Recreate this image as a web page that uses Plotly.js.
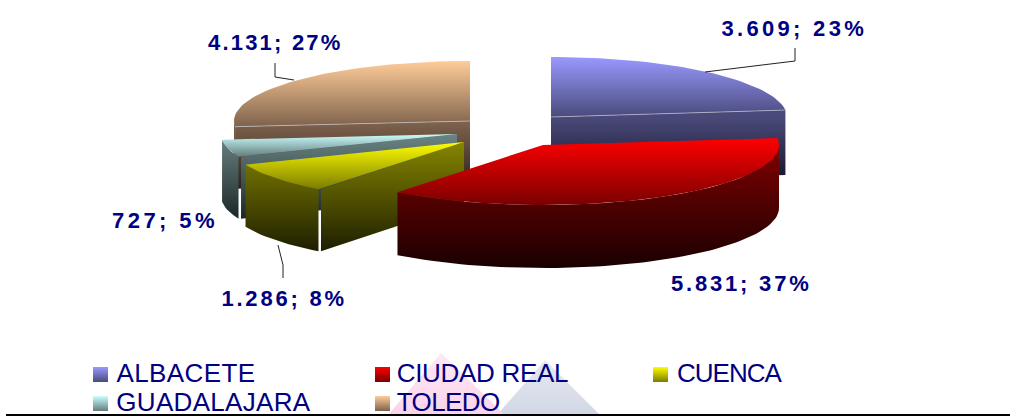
<!DOCTYPE html>
<html><head><meta charset="utf-8">
<script src="https://cdn.plot.ly/plotly-3.0.1.min.js"></script>
<style>html,body{margin:0;padding:0;background:#fff}#c{width:1010px;height:416px}</style>
</head><body><div id="c"></div>
<script>
// ---- data ----
const categories = ['ALBACETE','CIUDAD REAL','CUENCA','GUADALAJARA','TOLEDO'];
const values = [3609, 5831, 1286, 727, 4131];
const dataLabels = ['3.609; 23%','5.831; 37%','1.286; 8%','727; 5%','4.131; 27%'];
// ---- style ----
const topLight = ['#9999ff','#ff0000','#ffff00','#ccffff','#ffcc99'];
const topDark  = ['#4a4a7c','#7a0000','#7c7c00','#637d7d','#7e624c'];
const sideLight= ['#4a4a7a','#800000','#868600','#6b8585','#80644e'];
const sideDark = ['#14142a','#1a0000','#1e1e00','#1c2727','#2a2018'];
// ---- pie geometry (exploded slice centres, in page pixels) ----
const centerX = [551,543,464,457,470];
const centerY = [117,145,142,134,121];
const depths  = [65,63,62,62,62];
const gaps    = [0,0,2.5,2.5,0];
const RX = 236, RY = 60;
const labelX = [794.5,741,283.5,164.5,275];
const labelY = [28,283,298,220,42];
const labelSpacing = [3.3,2.8,2.8,3.4,2.2];
const swatchX = [93,375,653,93,375];
const swatchY = [367,367,367,396,396];
const legendTextX = [116,397,677,116,397];
const legendSpacing = [0.4,-0.3,-1,0.3,-0.6];

const total = values.reduce((a,b)=>a+b,0);
const rad = d => d*Math.PI/180;
function rim(i,deg,dy=0){return [centerX[i]+RX*Math.sin(rad(deg)), centerY[i]-RY*Math.cos(rad(deg))+dy];}
function arc(i,a,b,dy=0){const p=[];const n=Math.max(2,Math.ceil((b-a)/2));
  for(let k=0;k<=n;k++)p.push(rim(i,a+(b-a)*k/n,dy));return p;}
function poly(pts,c0,c1,start,name){
  const xs=pts.map(p=>p[0]), ys=pts.map(p=>p[1]);
  const lo=start===null?Math.min(...ys):start, hi=Math.max(...ys);
  xs.push(xs[0]); ys.push(ys[0]);
  return {type:'scatter',mode:'lines',x:xs,y:ys,fill:'toself',line:{width:0,color:c0},
    fillgradient:{type:'vertical',start:lo,stop:hi,colorscale:[[0,c0],[1,c1]]},
    hoverinfo:'text',text:name,showlegend:false};
}
function stroke(xs,ys,color,w){return {type:'scatter',mode:'lines',x:xs,y:ys,line:{width:w,color:color},
  hoverinfo:'skip',showlegend:false};}

const traces=[];
// background watermark triangles and base rule
traces.push(poly([[545,360],[600,415],[497,415]],'#e6e9f0','#d1d7e5',null,'bg'));
traces.push(poly([[441,353],[388,415],[505,415]],'#fde9f5','#fcd3eb',null,'bg'));
traces.push(stroke([6,1010],[415,415],'#000000',2));

let cum=0; const angles=values.map(v=>{const a=cum;cum+=v/total*360;return [a,cum];});
const drawOrder=[4,0,3,2,1];
drawOrder.forEach(i=>{
  const [a,b]=angles[i], cy=centerY[i], n=categories[i], D=depths[i];
  // visible radial cut faces
  [[a,a-90,gaps[i]],[b,b+90,0]].forEach(([t,normal,gap])=>{
    if(Math.cos(rad(normal))<0){
      const r=rim(i,t), rb=rim(i,t,D);
      traces.push(poly([[centerX[i],cy],[r[0]+gap,r[1]],[rb[0]+gap,rb[1]],[centerX[i],cy+D]],
        sideLight[i],sideDark[i],cy,n));
    }
  });
  // outer wall, front half only
  const wa=Math.max(a,90), wb=Math.min(b,270);
  if(wb>wa){
    const wall=arc(i,wa,wb).concat(arc(i,wa,wb,D).reverse());
    traces.push(poly(wall,sideLight[i],sideDark[i],cy,n));
  }
  // top face
  const top=[[centerX[i],cy]].concat(arc(i,a,b));
  traces.push(poly(top,topLight[i],topDark[i],null,n));
  if(i===0||i===4){ // pale seam where the top face meets the cut face
    const r=rim(i,i===0?b:a);
    traces.push(stroke([centerX[i],r[0]],[cy,r[1]],'rgba(205,205,215,0.6)',1));
  }
});
// leader lines
traces.push(stroke([705,795,795],[72,61,48],'#222222',1));
traces.push(stroke([294,275,275],[80,77,63],'#222222',1));
traces.push(stroke([278,283,283],[245,265,278],'#222222',1));
// legend swatches
categories.forEach((n,i)=>{
  const x=swatchX[i],y=swatchY[i];
  traces.push(poly([[x,y],[x+15,y],[x+15,y+15],[x,y+15]],topLight[i],topDark[i],null,n));
});

const annotations=[];
categories.forEach((n,i)=>{
  annotations.push({x:labelX[i],y:labelY[i],xref:'x',yref:'y',text:dataLabels[i],showarrow:false,
    xanchor:'center',yanchor:'middle',font:{family:'Liberation Sans',size:22,color:'#000080',weight:700}});
  annotations.push({x:legendTextX[i],y:swatchY[i]+6,xref:'x',yref:'y',text:n,showarrow:false,
    xanchor:'left',yanchor:'middle',xshift:-2+legendSpacing[i]*n.length/2,
    font:{family:'Liberation Sans',size:26,color:'#000080'}});
});

const layout={width:1010,height:416,margin:{l:0,r:0,t:0,b:0},paper_bgcolor:'#fff',plot_bgcolor:'#fff',
  showlegend:false,hovermode:'closest',
  xaxis:{range:[0,1010],visible:false,fixedrange:true},
  yaxis:{range:[416,0],visible:false,fixedrange:true},
  annotations:annotations};
Plotly.newPlot('c',traces,layout,{displayModeBar:false,staticPlot:true}).then(()=>{
  document.querySelectorAll('.annotation-text').forEach(t=>{
    const s=t.textContent;
    const li=dataLabels.indexOf(s), ci=categories.indexOf(s);
    if(li>=0) t.style.letterSpacing=labelSpacing[li]+'px';
    if(ci>=0) t.style.letterSpacing=legendSpacing[ci]+'px';
  });
});
</script></body></html>
